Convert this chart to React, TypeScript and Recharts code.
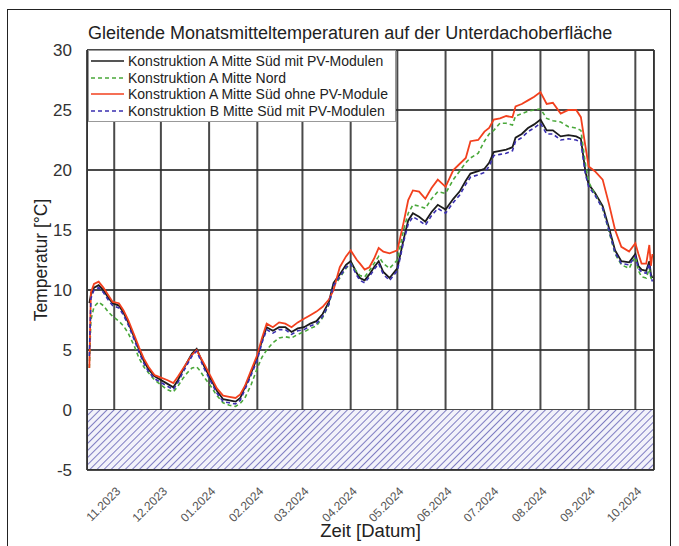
import React from 'react';
import { LineChart, Line, XAxis, YAxis, CartesianGrid, ReferenceArea } from 'recharts';

// days relative to 01.11.2023
const days = [-16,-15,-13,-10,-7,-4,-1,3,6,9,13,16,19,22,26,30,34,38,41,44,47,50,53,55,58,62,66,70,74,78,81,84,88,92,95,98,102,106,110,114,118,122,126,130,134,138,141,145,149,152,156,158,161,164,167,170,173,177,182,186,189,192,196,200,204,208,213,218,222,226,229,234,238,241,244,248,252,256,258,262,266,270,274,278,282,287,292,297,300,303,305,309,314,318,322,326,331,335,337,339,342,344,345,346];

const suedMitPV = [8.9,9.6,10.2,10.4,10.0,9.4,8.9,8.7,8.1,7.3,6.0,5.0,4.1,3.4,2.8,2.5,2.2,1.9,2.5,3.3,4.0,4.7,5.1,4.5,3.6,2.6,1.6,0.9,0.8,0.7,1.0,1.9,3.1,4.4,5.8,6.9,6.6,6.9,6.9,6.5,6.8,6.9,7.2,7.4,8.0,9.0,10.6,11.3,12.1,12.4,11.4,11.0,10.8,11.3,11.9,12.4,11.5,11.0,11.8,14.2,15.8,16.4,16.1,15.7,16.5,17.1,16.7,17.6,18.2,19.1,19.7,19.9,20.1,20.6,21.5,21.6,21.7,21.9,22.7,23.0,23.5,23.8,24.2,23.3,23.3,22.8,22.9,22.8,22.6,19.8,18.8,18.1,17.0,15.2,13.3,12.4,12.3,13.0,12.0,11.7,11.6,12.4,11.3,11.0];

const nord = [3.5,7.5,8.6,9.0,8.7,8.2,7.8,7.4,7.0,6.4,5.3,4.3,3.6,3.1,2.5,2.1,1.7,1.5,2.0,2.6,3.1,3.5,3.6,3.3,2.7,2.0,1.2,0.6,0.4,0.3,0.55,1.0,2.1,3.5,4.4,5.0,5.6,6.0,6.1,6.0,6.3,6.5,6.8,7.0,7.7,8.8,10.3,11.0,11.8,12.2,11.5,11.2,11.1,11.6,12.2,12.8,12.2,11.8,12.5,15.0,16.4,17.1,17.0,16.8,17.6,18.2,18.05,19.2,19.9,20.6,21.0,21.4,22.4,23.0,23.3,23.9,23.9,23.75,24.5,24.7,24.9,25.0,25.1,24.3,24.1,24.0,23.6,23.5,23.3,20.4,19.0,18.0,16.8,14.9,13.0,12.1,11.8,12.8,11.6,11.1,11.0,11.8,11.0,10.8];

const suedOhnePV = [3.5,9.8,10.5,10.7,10.2,9.6,9.0,8.9,8.3,7.5,6.2,5.2,4.3,3.6,2.9,2.7,2.5,2.25,2.8,3.4,4.0,4.6,5.0,4.5,3.8,2.8,1.8,1.2,1.1,1.0,1.3,2.0,3.3,4.6,6.0,7.2,6.9,7.3,7.2,6.9,7.3,7.6,7.9,8.2,8.6,9.2,10.0,11.9,12.8,13.3,12.5,12.2,11.7,11.9,12.6,13.5,13.2,13.05,13.3,15.6,17.5,18.3,18.2,17.6,18.5,19.2,18.6,20.0,20.5,21.0,22.4,22.5,23.2,23.5,24.2,24.3,24.5,24.4,25.3,25.5,25.8,26.1,26.5,25.5,25.6,24.7,25.0,25.0,24.4,21.9,20.3,19.9,19.2,17.2,15.0,13.6,13.2,13.9,13.0,12.2,12.2,13.75,12.0,13.0];

const bSuedMitPV = [4.5,9.3,10.0,10.2,9.8,9.2,8.7,8.5,7.9,7.1,5.8,4.8,3.9,3.2,2.6,2.3,2.0,1.7,2.3,3.1,3.8,4.5,4.9,4.3,3.4,2.4,1.4,0.7,0.6,0.5,0.8,1.7,2.9,4.2,5.6,6.7,6.4,6.7,6.7,6.3,6.6,6.7,7.0,7.2,7.8,8.8,10.4,11.1,11.9,12.2,11.2,10.8,10.6,11.1,11.7,12.2,11.3,10.8,11.6,14.0,15.5,16.1,15.8,15.4,16.2,16.8,16.4,17.3,17.9,18.8,19.4,19.6,19.8,20.3,21.2,21.3,21.4,21.6,22.4,22.7,23.2,23.5,23.9,23.0,23.0,22.5,22.6,22.5,22.3,19.6,18.6,17.9,16.8,15.0,13.1,12.2,12.1,12.8,11.8,11.5,11.4,12.2,11.1,10.7];

const monthTicks = [0, 30, 61, 92, 121, 152, 182, 213, 243, 274, 305, 335];
const monthLabels = ['11.2023', '12.2023', '01.2024', '02.2024', '03.2024', '04.2024', '05.2024', '06.2024', '07.2024', '08.2024', '09.2024', '10.2024'];
const yTicks = [-5, 0, 5, 10, 15, 20, 25, 30];

const seriesNames = [
  'Konstruktion A Mitte Süd mit PV-Modulen',
  'Konstruktion A Mitte Nord',
  'Konstruktion A Mitte Süd ohne PV-Module',
  'Konstruktion B Mitte Süd mit PV-Modulen',
];
const seriesColors = ['#1c1c1c', '#4aa83a', '#f2401e', '#3a2fb0'];
const seriesDash = ['', '4 3', '', '4 3'];

const data = days.map((d, i) => ({
  d,
  a: suedMitPV[i],
  n: nord[i],
  o: suedOhnePV[i],
  b: bSuedMitPV[i],
}));

const FONT = '"Liberation Sans", Arial, sans-serif';

const XTick = (props: any) => {
  const { x, y, payload } = props;
  const idx = monthTicks.indexOf(payload.value);
  return (
    <g transform={`translate(${x + 7},${y + 14})`}>
      <text x={0} y={0} transform="rotate(-45)" textAnchor="end" fontSize={12} fill="#555" fontFamily={FONT}>
        {idx >= 0 ? monthLabels[idx] : ''}
      </text>
    </g>
  );
};

const LegendBox = () => (
  <div style={{ border: '1px solid #999', background: '#fff', padding: '2px 7px 2px 2px', fontFamily: FONT, fontSize: 14, color: '#222', lineHeight: '16.5px' }}>
    {seriesNames.map((n, i) => (
      <div key={n} style={{ display: 'flex', alignItems: 'center', whiteSpace: 'nowrap' }}>
        <svg width={33} height={8} style={{ marginRight: 4 }}>
          <line x1={0} y1={4} x2={33} y2={4} stroke={seriesColors[i]} strokeWidth={1.6} strokeDasharray={seriesDash[i] || undefined} />
        </svg>
        <span>{n}</span>
      </div>
    ))}
  </div>
);

export default function App() {
  return (
    <div style={{ position: 'absolute', left: 0, top: 0, width: 679, height: 546, background: '#fff', overflow: 'hidden' }}>
      <div style={{ position: 'absolute', left: 7, top: 9, width: 664, height: 560, border: '1.5px solid #222', boxSizing: 'border-box' }} />
      <div style={{ position: 'absolute', left: 0, top: 0 }}>
        <LineChart width={679} height={546} data={data} margin={{ top: 50, right: 25, left: 0, bottom: 0 }}>
          <defs>
            <pattern id="hatch" width="5" height="5" patternUnits="userSpaceOnUse" patternTransform="rotate(45)">
              <rect width="5" height="5" fill="#f2f2fa" />
              <line x1="0" y1="0" x2="0" y2="5" stroke="#6a68b8" strokeWidth="1.7" />
            </pattern>
          </defs>
          <ReferenceArea x1={-17.5} x2={347} y1={-5} y2={0} fill="url(#hatch)" fillOpacity={1} stroke="none" ifOverflow="hidden" />
          <CartesianGrid stroke="#2a2a2a" strokeWidth={2} strokeOpacity={0.85} />
          <XAxis
            dataKey="d"
            type="number"
            domain={[-17.5, 347]}
            ticks={monthTicks}
            interval={0}
            allowDataOverflow
            height={76}
            tick={<XTick />}
            tickLine={false}
            axisLine={false}
            label={{ value: 'Zeit [Datum]', position: 'insideBottom', offset: 9, fontSize: 18.5, fill: '#222', fontFamily: FONT }}
          />
          <YAxis
            type="number"
            domain={[-5, 30]}
            ticks={yTicks}
            interval={0}
            allowDataOverflow
            width={87}
            tick={{ fontSize: 17, fill: '#333', fontFamily: FONT }}
            tickLine={false}
            axisLine={false}
            tickMargin={9}
            label={{ value: 'Temperatur [°C]', angle: -90, position: 'insideLeft', offset: 41, fontSize: 17.5, fill: '#222', fontFamily: FONT, style: { textAnchor: 'middle' } }}
          />
          <ReferenceArea x1={-17.5} x2={347} y1={-5} y2={30} fill="none" stroke="#333" strokeWidth={2} ifOverflow="hidden" />
          <Line dataKey="a" name={seriesNames[0]} stroke={seriesColors[0]} strokeWidth={1.8} dot={false} isAnimationActive={false} />
          <Line dataKey="n" name={seriesNames[1]} stroke={seriesColors[1]} strokeWidth={1.6} strokeDasharray="4 3" dot={false} isAnimationActive={false} />
          <Line dataKey="o" name={seriesNames[2]} stroke={seriesColors[2]} strokeWidth={1.8} dot={false} isAnimationActive={false} />
          <Line dataKey="b" name={seriesNames[3]} stroke={seriesColors[3]} strokeWidth={1.6} strokeDasharray="4 3" dot={false} isAnimationActive={false} />
        </LineChart>
      </div>
      <div style={{ position: 'absolute', left: 88, top: 23, fontFamily: FONT, fontSize: 18, color: '#222', whiteSpace: 'nowrap' }}>
        Gleitende Monatsmitteltemperaturen auf der Unterdachoberfläche
      </div>
      <div style={{ position: 'absolute', left: 88, top: 50 }}>
        <LegendBox />
      </div>
    </div>
  );
}
